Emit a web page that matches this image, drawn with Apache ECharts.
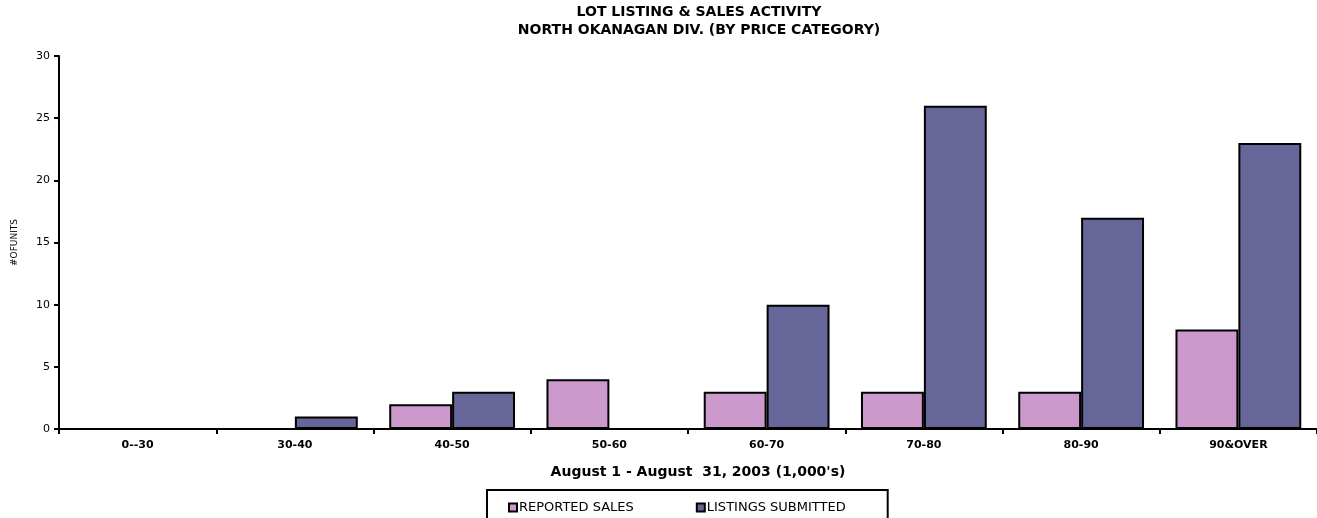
<!DOCTYPE html>
<html>
<head>
<meta charset="utf-8">
<script src="https://cdn.jsdelivr.net/npm/echarts@6/dist/echarts.min.js"></script>
<style>
html, body { margin: 0; padding: 0; background: #fff; }
#chart { width: 1317px; height: 518px; }
</style>
</head>
<body>
<div id="chart"></div>
<script>
var categories = ['0--30', '30-40', '40-50', '50-60', '60-70', '70-80', '80-90', '90&OVER'];
var reportedSales = [0, 0, 2, 4, 3, 3, 3, 8];
var listingsSubmitted = [0, 1, 3, 0, 10, 26, 17, 23];
var seriesNames = ['REPORTED SALES', 'LISTINGS SUBMITTED'];

var chart = echarts.init(document.getElementById('chart'));
var font = '"DejaVu Sans", Arial, sans-serif';

var option = {
	animation : false,
	textStyle : {
		fontFamily : font
	},
	title : {
		text : 'LOT LISTING & SALES ACTIVITY\nNORTH OKANAGAN DIV. (BY PRICE CATEGORY)',
		left : 694,
		textAlign : 'center',
		top : -2,
		textStyle : {
			fontSize : 14,
			fontWeight : 'bold',
			color : '#000',
			lineHeight : 18,
			fontFamily : font
		}
	},
	legend : {
		left : 487,
		top : 490,
		padding : [ 11, 42, 12, 21 ],
		borderColor : '#000',
		borderWidth : 2,
		itemWidth : 8,
		itemHeight : 8,
		itemGap : 62,
		icon : 'rect',
		data : seriesNames,
		textStyle : {
			fontSize : 13,
			color : '#000',
			padding : [ 0, 0, 0, -3 ],
			fontFamily : font
		}
	},
	grid : {
		left : 59,
		right : -1,
		top : 56,
		bottom : 89
	},
	xAxis : {
		type : 'category',
		data : categories,
		name : "August 1 - August  31, 2003 (1,000's)",
		nameLocation : 'middle',
		nameGap : 36,
		nameTextStyle : {
			fontSize : 14,
			fontWeight : 'bold',
			color : '#000',
			padding : [ 0, 0, 0, 20 ]
		},
		axisLine : {
			lineStyle : {
				color : '#000',
				width : 2
			}
		},
		axisTick : {
			show : true,
			interval : 0,
			length : 5,
			lineStyle : {
				color : '#000',
				width : 2
			}
		},
		axisLabel : {
			fontSize : 11,
			fontWeight : 'bold',
			color : '#000',
			margin : 11
		}
	},
	yAxis : {
		type : 'value',
		min : 0,
		max : 30,
		interval : 5,
		name : '#OFUNITS',
		nameLocation : 'middle',
		nameGap : 40,
		nameTextStyle : {
			fontSize : 9,
			color : '#000'
		},
		splitLine : {
			show : false
		},
		axisLine : {
			show : true,
			lineStyle : {
				color : '#000',
				width : 2
			}
		},
		axisTick : {
			show : true,
			length : 5,
			lineStyle : {
				color : '#000',
				width : 2
			}
		},
		axisLabel : {
			fontSize : 11,
			color : '#000',
			margin : 9
		}
	},
	series : [ {
		name : seriesNames[0],
		type : 'bar',
		data : reportedSales,
		barGap : '0%',
		barCategoryGap : '20%',
		itemStyle : {
			color : '#CC99CC',
			borderColor : '#000',
			borderWidth : 2
		}
	}, {
		name : seriesNames[1],
		type : 'bar',
		data : listingsSubmitted,
		barGap : '0%',
		barCategoryGap : '20%',
		itemStyle : {
			color : '#666699',
			borderColor : '#000',
			borderWidth : 2
		}
	} ]
};
chart.setOption(option);
</script>
</body>
</html>
